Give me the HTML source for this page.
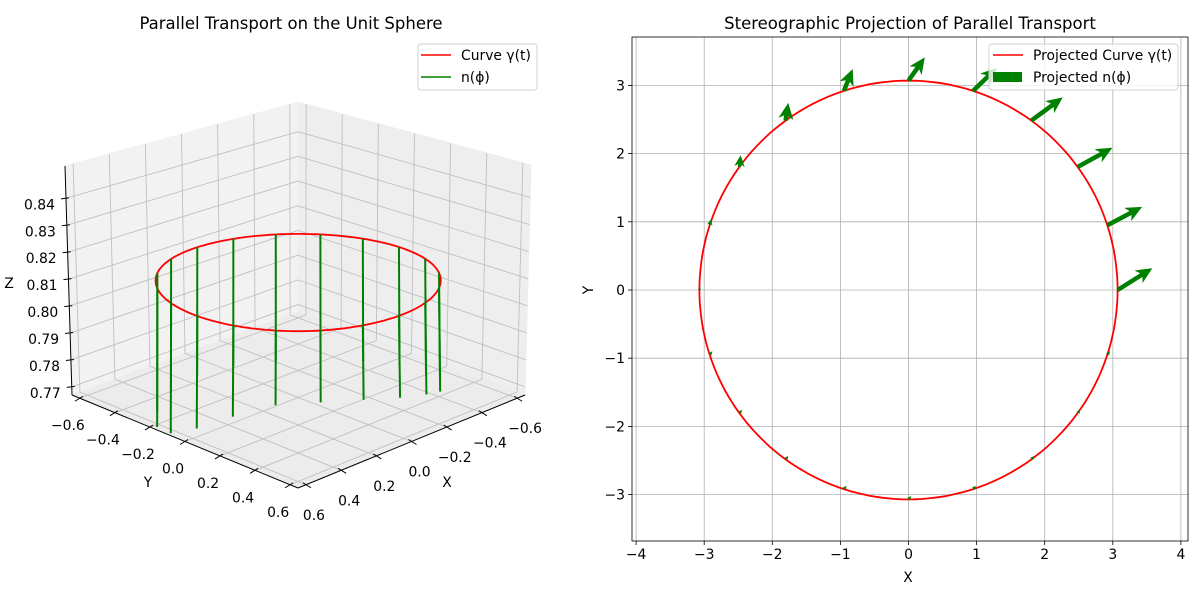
<!DOCTYPE html>
<html><head><meta charset="utf-8">
<style>
html,body{margin:0;padding:0;background:#fff;}
svg{display:block;font-family:"DejaVu Sans","Liberation Sans",sans-serif;}
</style></head>
<body>
<svg id="fig" width="1200" height="600" viewBox="0 0 1200 600" xmlns="http://www.w3.org/2000/svg">
<rect width="1200" height="600" fill="#fff"/>
<g id="left"></g>
<g id="right"></g>
</svg>
<script>
// ---------- data ----------
const ringZ = 0.81;
const ringR = 0.566;
const nPhiDeg = [0,18,36,54,72,90,108,126,144,162,180,198,216,234,252,270,288,306,324,342];
const nDz = [0.040,0.032,0.026,0.025,0.026,0.029,0.033,0.038,0.041,0.044,0.046,0.048,0.050,0.050,0.050,0.050,0.051,0.052,0.051,0.047];
const xyTicks = [-0.6,-0.4,-0.2,0.0,0.2,0.4,0.6];
const zTicks = [0.77,0.78,0.79,0.80,0.81,0.82,0.83,0.84];
const projR = 3.07;
const arrowPhiDeg = [0,18,36,54,72,90,108,126,144,162,180,198,216,234,252,270,288,306,324,342];
const arrowDx = [0.51,0.51,0.51,0.46,0.35,0.24,0.13,0.04,0.02,0.02,0.01,0.04,0.04,0.04,0.04,0.04,0.04,0.04,0.04,0.04];
const arrowDy = [0.32,0.27,0.28,0.34,0.34,0.34,0.32,0.26,0.17,0.09,0.05,0.05,0.05,0.05,0.05,0.05,0.05,0.05,0.05,0.05];
const xTicks2 = [-4,-3,-2,-1,0,1,2,3,4];
const yTicks2 = [-3,-2,-1,0,1,2,3];

const NS = "http://www.w3.org/2000/svg";
function mk(tag, attrs, parent){const e=document.createElementNS(NS,tag);for(const k in attrs)e.setAttribute(k,attrs[k]);parent.appendChild(e);return e;}
function fmt(v,d){const s=Math.abs(v).toFixed(d);return (v<-1e-9?"\u2212":"")+s;}

// ---------- left 3D ----------
const L = document.getElementById('left');
const LIM = 0.645, Z0 = 0.767, Z1 = 0.852;
const C = {
 "000":[298,312],"100":[72,395],"010":[525,395],"110":[298,488],
 "001":[298,102],"101":[65,166],"011":[531,165],"111":[298,240]};
function P(x,y,z){
  const u=(x+LIM)/(2*LIM), v=(y+LIM)/(2*LIM), w=(z-Z0)/(Z1-Z0);
  let sx=0, sy=0;
  for(const a of [0,1])for(const b of [0,1])for(const c of [0,1]){
    const wt=(a?u:1-u)*(b?v:1-v)*(c?w:1-w);
    const p=C[""+a+b+c]; sx+=wt*p[0]; sy+=wt*p[1];
  }
  return [sx,sy];
}
function poly(pts){return pts.map(p=>p[0].toFixed(1)+","+p[1].toFixed(1)).join(" ");}
function line3(a,b,attrs,name){const p=P(...a),q=P(...b);const e=mk('line',Object.assign({x1:p[0],y1:p[1],x2:q[0],y2:q[1]},attrs),L);return e;}

mk('text',{x:291,y:29,'text-anchor':'middle','font-size':16.5,fill:'#000',},L).textContent='Parallel Transport on the Unit Sphere';
let pn;
pn=mk('polygon',{points:poly([P(-LIM,-LIM,Z0),P(LIM,-LIM,Z0),P(LIM,-LIM,Z1),P(-LIM,-LIM,Z1)]),fill:'#f2f2f2',stroke:'#f2f2f2'},L);

pn=mk('polygon',{points:poly([P(-LIM,-LIM,Z0),P(-LIM,LIM,Z0),P(-LIM,LIM,Z1),P(-LIM,-LIM,Z1)]),fill:'#eeeeee',stroke:'#eeeeee'},L);

pn=mk('polygon',{points:poly([P(-LIM,-LIM,Z0),P(LIM,-LIM,Z0),P(LIM,LIM,Z0),P(-LIM,LIM,Z0)]),fill:'#ececec',stroke:'#ececec'},L);

const gA={stroke:'#c0c0c0','stroke-width':0.9};
zTicks.forEach(z=>{
  line3([LIM,-LIM,z],[-LIM,-LIM,z],gA,'z-grid-left');
  line3([-LIM,-LIM,z],[-LIM,LIM,z],gA,'z-grid-right');
});
xyTicks.forEach(t=>{
  line3([t,-LIM,Z0],[t,LIM,Z0],gA,'x-grid-floor');
  line3([t,-LIM,Z0],[t,-LIM,Z1],gA,'x-grid-wall');
  line3([-LIM,t,Z0],[LIM,t,Z0],gA,'y-grid-floor');
  line3([-LIM,t,Z0],[-LIM,t,Z1],gA,'y-grid-wall');
});
const aA={stroke:'#000','stroke-width':1};
line3([LIM,-LIM,Z0],[LIM,-LIM,Z1],aA,'z-axis-line');
line3([LIM,-LIM,Z0],[LIM,LIM,Z0],aA,'y-axis-line');
line3([-LIM,LIM,Z0],[LIM,LIM,Z0],aA,'x-axis-line');
zTicks.forEach(z=>{
  const p=P(LIM,-LIM,z);
  const e=mk('line',{x1:p[0]-5,y1:p[1]+0.5,x2:p[0]+3,y2:p[1]-0.5,stroke:'#000','stroke-width':1},L);
  
  const t=mk('text',{x:p[0]-11,y:p[1]+11,'text-anchor':'end','font-size':13.9},L);
  t.textContent=z.toFixed(2);
});
xyTicks.forEach(v=>{
  let p=P(v,LIM,Z0);
  let e=mk('line',{x1:p[0]-3,y1:p[1]-2,x2:p[0]+5,y2:p[1]+3,stroke:'#000','stroke-width':1},L);
  
  let t=mk('text',{x:p[0]+8,y:p[1]+35,'text-anchor':'middle','font-size':13.9},L);
  t.textContent=fmt(v,1);
  p=P(LIM,v,Z0);
  e=mk('line',{x1:p[0]+3,y1:p[1]-2,x2:p[0]-5,y2:p[1]+3,stroke:'#000','stroke-width':1},L);
  
  t=mk('text',{x:p[0]-12,y:p[1]+32,'text-anchor':'middle','font-size':13.9},L);
  t.textContent=fmt(v,1);
});
mk('text',{x:447,y:487,'text-anchor':'middle','font-size':13.9,},L).textContent='X';
mk('text',{x:148,y:487,'text-anchor':'middle','font-size':13.9,},L).textContent='Y';
mk('text',{x:9,y:288,'text-anchor':'middle','font-size':13.9,},L).textContent='Z';
let rp=[];
for(let i=0;i<=180;i++){const th=i/180*2*Math.PI;rp.push(P(ringR*Math.cos(th),ringR*Math.sin(th),ringZ));}
mk('polyline',{points:poly(rp),fill:'none',stroke:'#ff0000','stroke-width':1.8,},L);
nPhiDeg.forEach((d,i)=>{
  const th=d*Math.PI/180, x=ringR*Math.cos(th), y=ringR*Math.sin(th);
  line3([x,y,ringZ],[x*1.02,y*1.02,ringZ-nDz[i]],{stroke:'#008000','stroke-width':2},'n-vector');
});
mk('rect',{x:418,y:44,width:119,height:46,rx:3,fill:'#fff','fill-opacity':0.8,stroke:'#d0d0d0',},L);
mk('line',{x1:421,y1:55,x2:451,y2:55,stroke:'#ff0000','stroke-width':1.6,},L);
mk('text',{x:461,y:60,'font-size':13.9,},L).textContent='Curve γ(t)';
mk('line',{x1:421,y1:77,x2:451,y2:77,stroke:'#008000','stroke-width':1.6,},L);
mk('text',{x:461,y:82,'font-size':13.9,},L).textContent='n(ϕ)';

// ---------- right 2D ----------
const R=document.getElementById('right');
const AX={l:632,t:37,r:1188,b:541};
const X0=908.5,KX=68.1,Y0=290,KY=68.2;
const sx=v=>X0+v*KX, sy=v=>Y0-v*KY;
mk('text',{x:910,y:29,'text-anchor':'middle','font-size':16.5,},R).textContent='Stereographic Projection of Parallel Transport';
xTicks2.forEach(v=>{
  const x=sx(v);
  let e=mk('line',{x1:x,y1:AX.t,x2:x,y2:AX.b,stroke:'#b0b0b0','stroke-width':0.8},R);
  
  e=mk('line',{x1:x,y1:AX.b,x2:x,y2:AX.b+4,stroke:'#000','stroke-width':0.8},R);
  
  const t=mk('text',{x:x,y:AX.b+18,'text-anchor':'middle','font-size':13.9},R);
  t.textContent=fmt(v,0);
});
yTicks2.forEach(v=>{
  const y=sy(v);
  let e=mk('line',{x1:AX.l,y1:y,x2:AX.r,y2:y,stroke:'#b0b0b0','stroke-width':0.8},R);
  
  e=mk('line',{x1:AX.l-4,y1:y,x2:AX.l,y2:y,stroke:'#000','stroke-width':0.8},R);
  
  const t=mk('text',{x:AX.l-7,y:y+5,'text-anchor':'end','font-size':13.9},R);
  t.textContent=fmt(v,0);
});
let cp=[];
for(let i=0;i<=200;i++){const th=i/200*2*Math.PI;cp.push([sx(projR*Math.cos(th)),sy(projR*Math.sin(th))]);}
mk('polyline',{points:poly(cp),fill:'none',stroke:'#ff0000','stroke-width':1.8,},R);
arrowPhiDeg.forEach((d,i)=>{
  const th=d*Math.PI/180;
  const bx=sx(projR*Math.cos(th)), by=sy(projR*Math.sin(th));
  const ex=sx(projR*Math.cos(th)+arrowDx[i]), ey=sy(projR*Math.sin(th)+arrowDy[i]);
  const dx=ex-bx, dy=ey-by, len=Math.hypot(dx,dy); if(len<0.1)return;
  const ux=dx/len, uy=dy/len, nx=-uy, ny=ux;
  let sw=4.5, hl=13, hw=15;
  const s=Math.min(1,len/(hl*1.3)); sw*=s; hl*=s; hw*=s;
  const sl=len-hl;
  const pts=[[0,-sw/2],[sl,-sw/2],[sl-hl*0.25,-hw/2],[len,0],[sl-hl*0.25,hw/2],[sl,sw/2],[0,sw/2]]
    .map(([a,b])=>[bx+ux*a+nx*b,by+uy*a+ny*b]);
  const e=mk('polygon',{points:poly(pts),fill:'#008000'},R);
  
});
mk('rect',{x:AX.l,y:AX.t,width:AX.r-AX.l,height:AX.b-AX.t,fill:'none',stroke:'#000','stroke-width':0.8,},R);
mk('text',{x:908,y:582,'text-anchor':'middle','font-size':13.9,},R).textContent='X';
mk('text',{x:0,y:0,'text-anchor':'middle','font-size':13.9,transform:'translate(593,290) rotate(-90)',},R).textContent='Y';
mk('rect',{x:989,y:44,width:189,height:46,rx:3,fill:'#fff','fill-opacity':0.8,stroke:'#d0d0d0',},R);
mk('line',{x1:993,y1:55,x2:1023,y2:55,stroke:'#ff0000','stroke-width':1.6,},R);
mk('text',{x:1033,y:60,'font-size':13.9,},R).textContent='Projected Curve γ(t)';
mk('rect',{x:993,y:72,width:29,height:10,fill:'#008000',},R);
mk('text',{x:1033,y:82,'font-size':13.9,},R).textContent='Projected n(ϕ)';
</script>
</body></html>
